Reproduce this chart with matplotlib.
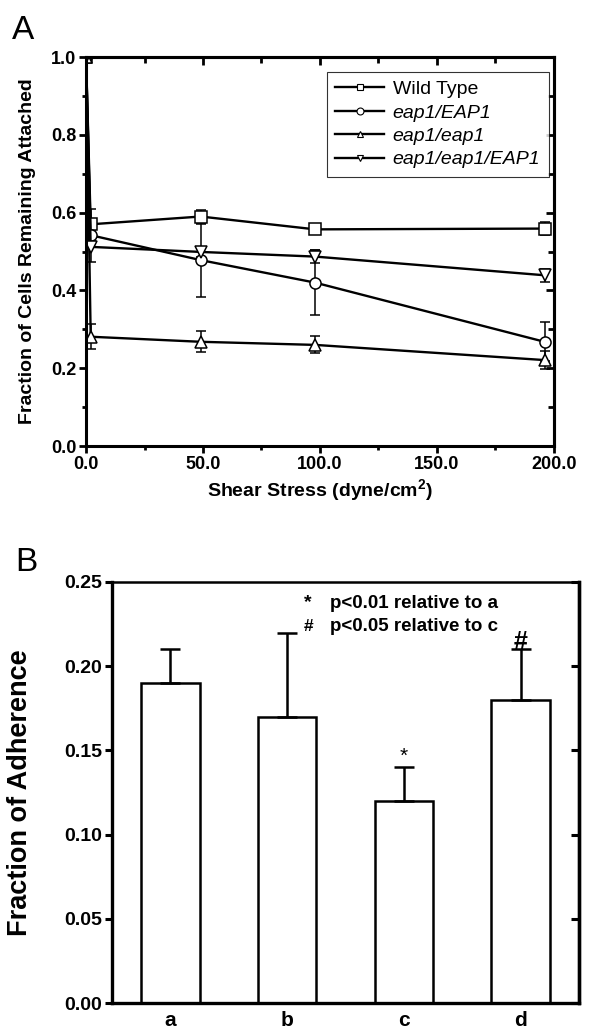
import numpy as np
import matplotlib
matplotlib.use("Agg")
import matplotlib.pyplot as plt
from matplotlib.lines import Line2D
from matplotlib.ticker import MultipleLocator, FormatStrFormatter

plt.rcParams['font.family'] = ['Liberation Sans', 'DejaVu Sans']
plt.rcParams['mathtext.fontset'] = 'custom'
plt.rcParams['mathtext.bf'] = 'Liberation Sans:bold'
plt.rcParams['mathtext.rm'] = 'Liberation Sans'

# Panel A data: shear stress vs fraction attached
shear = [0, 2, 49, 98, 196]
series_names = ['Wild Type', 'eap1/EAP1', 'eap1/eap1', 'eap1/eap1/EAP1']
series_markers = ['s', 'o', '^', 'v']
wild_type = [1.0, 0.57, 0.59, 0.557, 0.559]
wild_type_err = [0, 0.04, 0.018, 0.008, 0.017]
eap1_EAP1 = [1.0, 0.542, 0.478, 0.42, 0.268]
eap1_EAP1_err = [0, 0.02, 0.095, 0.083, 0.05]
eap1_eap1 = [1.0, 0.281, 0.268, 0.26, 0.221]
eap1_eap1_err = [0, 0.032, 0.027, 0.022, 0.024]
eap1_eap1_EAP1 = [1.0, 0.512, 0.499, 0.487, 0.439]
eap1_eap1_EAP1_err = [0, 0.04, 0.012, 0.017, 0.017]

# Panel B data: adherence
groups = ['a', 'b', 'c', 'd']
adherence = [0.19, 0.17, 0.12, 0.18]
adherence_err = [0.02, 0.05, 0.02, 0.03]
marks = ['', '', '*', '#']

fig = plt.figure(figsize=(5.9, 10.33), dpi=100)

# ---------------- Panel A ----------------
ax = fig.add_axes([0.1458, 0.5682, 0.793, 0.3766])
values = [wild_type, eap1_EAP1, eap1_eap1, eap1_eap1_EAP1]
errors = [wild_type_err, eap1_EAP1_err, eap1_eap1_err, eap1_eap1_EAP1_err]
handles = []
for name, mk, y, e in zip(series_names, series_markers, values, errors):
    ax.errorbar(shear, y, yerr=e, color='black', lw=1.7, elinewidth=1.1,
                capsize=3.5, capthick=1.1, marker=mk, markersize=8,
                markerfacecolor='white', markeredgecolor='black',
                markeredgewidth=1.1)
    handles.append(Line2D([], [], color='black', lw=1.7, marker=mk, markersize=5,
                          markerfacecolor='white', markeredgewidth=0.8, label=name))

ax.set_xlim(0, 200)
ax.set_ylim(0, 1.0)
ax.xaxis.set_major_locator(MultipleLocator(50))
ax.xaxis.set_minor_locator(MultipleLocator(25))
ax.yaxis.set_major_locator(MultipleLocator(0.2))
ax.yaxis.set_minor_locator(MultipleLocator(0.1))
ax.xaxis.set_major_formatter(FormatStrFormatter('%.1f'))
ax.yaxis.set_major_formatter(FormatStrFormatter('%.1f'))
for s in ax.spines.values():
    s.set_linewidth(2.2)
ax.tick_params(which='both', direction='out', width=2, top=False, right=False,
               labelsize=13, pad=2)
ax.tick_params(which='major', length=5)
ax.tick_params(which='minor', length=3)
for lab in ax.get_xticklabels() + ax.get_yticklabels():
    lab.set_fontweight('bold')
# inward ticks on top and right
ax2 = ax.secondary_xaxis('top')
ax2.xaxis.set_major_locator(MultipleLocator(50))
ax2.xaxis.set_minor_locator(MultipleLocator(25))
ax2.tick_params(which='both', direction='in', width=2, labeltop=False)
ax2.tick_params(which='major', length=6)
ax2.tick_params(which='minor', length=4)
ax2.spines['top'].set_linewidth(2.2)
ay2 = ax.secondary_yaxis('right')
ay2.yaxis.set_major_locator(MultipleLocator(0.2))
ay2.yaxis.set_minor_locator(MultipleLocator(0.1))
ay2.tick_params(which='both', direction='in', width=2, labelright=False)
ay2.tick_params(which='major', length=6)
ay2.tick_params(which='minor', length=4)
ay2.spines['right'].set_linewidth(2.2)

ax.set_xlabel(r'Shear Stress (dyne/cm$^{\mathbf{2}}$)', fontsize=14,
              fontweight='bold', labelpad=3)
ax.set_ylabel('Fraction of Cells Remaining Attached', fontsize=14,
              fontweight='bold')
ax.yaxis.set_label_coords(-0.107, 0.5)
leg = ax.legend(handles=handles, loc='upper right', numpoints=1, fontsize=14,
                frameon=True, fancybox=False, edgecolor='black',
                handlelength=2.5, handletextpad=0.45, borderpad=0.45,
                labelspacing=0.3, borderaxespad=0,
                bbox_to_anchor=(0.99, 0.962))
leg.get_frame().set_linewidth(0.8)
for t in leg.get_texts()[1:]:
    t.set_fontstyle('italic')
fig.text(0.02, 0.962, 'A', fontsize=24)

# ---------------- Panel B ----------------
bx = fig.add_axes([0.1898, 0.029, 0.7915, 0.4076])
pos = np.arange(1, len(groups) + 1)
bx.bar(pos, adherence, width=0.5, color='white', edgecolor='black', linewidth=1.8)
bx.errorbar(pos, adherence, yerr=[np.zeros(len(adherence)), adherence_err],
            fmt='none', ecolor='black', elinewidth=1.8, capsize=7.5, capthick=1.8)
for p, v, e, m in zip(pos, adherence, adherence_err, marks):
    if m == '*':
        bx.text(p, v + e + 0.001, m, ha='center', va='bottom', fontsize=15)
    elif m == '#':
        bx.text(p, v + e - 0.0025, m, ha='center', va='bottom', fontsize=18,
                fontweight='bold')
bx.set_xlim(0.5, 4.5)
bx.set_ylim(0, 0.25)
bx.set_xticks(pos)
bx.set_xticklabels(groups)
bx.yaxis.set_major_locator(MultipleLocator(0.05))
bx.yaxis.set_major_formatter(FormatStrFormatter('%.2f'))
for s in bx.spines.values():
    s.set_linewidth(1.8)
bx.spines['left'].set_linewidth(2.4)
bx.spines['right'].set_linewidth(2.4)
bx.spines['bottom'].set_linewidth(2.4)
bx.tick_params(axis='x', length=0, labelsize=15, pad=6)
bx.tick_params(axis='y', direction='out', length=5, width=2.2, labelsize=14, pad=2)
for lab in bx.get_xticklabels() + bx.get_yticklabels():
    lab.set_fontweight('bold')
by2 = bx.secondary_yaxis('right')
by2.yaxis.set_major_locator(MultipleLocator(0.05))
by2.tick_params(direction='in', length=6, width=2.2, labelright=False)
by2.spines['right'].set_linewidth(2.4)
bx.set_ylabel('Fraction of Adherence', fontsize=19.5, fontweight='bold')
bx.yaxis.set_label_coords(-0.17, 0.5)
bx.text(2.18, 0.2375, '*', fontsize=14, fontweight='bold', va='center', ha='center')
bx.text(2.37, 0.2375, 'p<0.01 relative to a', fontsize=13.5, fontweight='bold', va='center')
bx.text(2.18, 0.2235, '#', fontsize=12.5, fontweight='bold', va='center', ha='center')
bx.text(2.37, 0.2235, 'p<0.05 relative to c', fontsize=13.5, fontweight='bold', va='center')
fig.text(0.025, 0.447, 'B', fontsize=24)

fig.savefig('out.png', dpi=100)
